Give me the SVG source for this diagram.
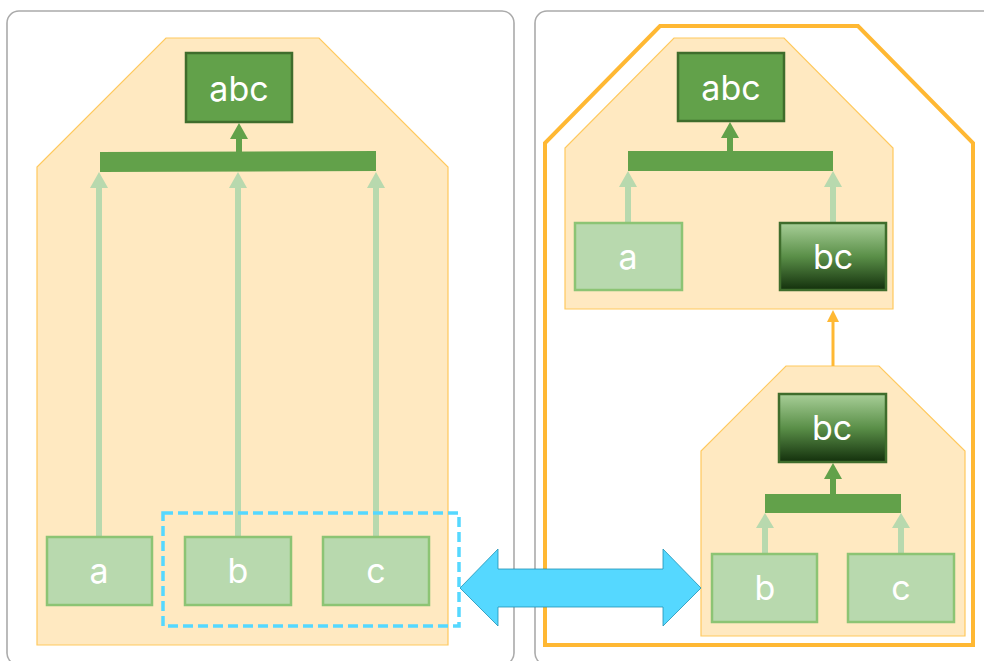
<svg xmlns="http://www.w3.org/2000/svg" width="984" height="661" viewBox="0 0 984 661">
<defs>
<linearGradient id="dk" x1="0" y1="0" x2="0" y2="1">
<stop offset="0" stop-color="#A8CF98"/>
<stop offset="0.5" stop-color="#5A8F48"/>
<stop offset="1" stop-color="#13300C"/>
</linearGradient>
</defs>
<style>
.panel{fill:#fff;stroke:#aaaaaa;stroke-width:1.6}
.grp{fill:#FFE9C1;stroke:#FFC95E;stroke-width:1.2}
.dn rect{fill:#62A14A;stroke:#3F6D2C;stroke-width:2.5}
.gn rect{fill:url(#dk);stroke:#3F6D2C;stroke-width:2.5}
.ln rect{fill:#B8D9AE;stroke:#8CC474;stroke-width:2.5}
text{font-family:Inter,"Liberation Sans",sans-serif;font-size:34px;fill:#fff;text-anchor:middle}
.bar{fill:#62A14A}
.la{fill:#B8D9AE}
.da{fill:#62A14A}
</style>
<rect class="panel" x="7" y="11" width="507" height="654" rx="12"/>
<rect class="panel" x="535" y="11" width="470" height="654" rx="12"/>
<polygon id="outer" points="660,26 858,26 973,143 973,645 545,645 545,143" fill="none" stroke="#FFB833" stroke-width="4"/>
<g id="group-left"><polygon class="grp" points="166,38 319,38 448,167 448,645 37,645 37,167"/></g>
<g id="group-top"><polygon class="grp" points="674,38 784,38 893,148 893,309 565,309 565,148"/></g>
<g id="group-bottom"><polygon class="grp" points="786,366 879,366 965,451 965,636 701,636 701,451"/></g>
<g id="connectors">
<polygon class="bar" points="100,152 376,151 376,171 100,172"/>
<rect class="da" x="236" y="138" width="6" height="14"/><polygon class="da" points="230,139 239,123 248,139"/>
<rect class="la" x="96" y="187" width="6" height="350"/><polygon class="la" points="90,188 99,172 108,188"/>
<rect class="la" x="235" y="187" width="6" height="350"/><polygon class="la" points="229,188 238,172 247,188"/>
<rect class="la" x="373" y="187" width="6" height="350"/><polygon class="la" points="367,188 376,172 385,188"/>
<polygon class="bar" points="628,151 833,151 833,171 628,171"/>
<rect class="da" x="727" y="137" width="6" height="15"/><polygon class="da" points="721,138 730,122 739,138"/>
<rect class="la" x="625" y="186" width="6" height="37"/><polygon class="la" points="619,187 628,171 637,187"/>
<rect class="la" x="830" y="186" width="6" height="37"/><polygon class="la" points="824,187 833,171 842,187"/>
<polygon class="bar" points="765,494 901,494 901,513 765,513"/>
<rect class="da" x="830" y="478" width="6" height="17"/><polygon class="da" points="824,479 833,463 842,479"/>
<rect class="la" x="762" y="527" width="6" height="27"/><polygon class="la" points="756,528 765,513 774,528"/>
<rect class="la" x="898" y="527" width="6" height="27"/><polygon class="la" points="892,528 901,513 910,528"/>
<line x1="833" y1="366" x2="833" y2="320" stroke="#FFB833" stroke-width="3"/>
<polygon points="827,322 833,310 839,322" fill="#FFB833"/>
<rect x="163" y="513" width="296" height="113" fill="none" stroke="#55D8FF" stroke-width="3.5" stroke-dasharray="10,5"/>
<polygon points="460,588 498,549 498,569 663,569 663,549 701,588 663,626 663,607 498,607 498,626" fill="#55D8FF" stroke="#1F93B5" stroke-width="0.8"/>
</g>
<g id="abc-left" class="dn"><rect x="186" y="53" width="106" height="69"/><text x="239" y="101">abc</text></g>
<g id="a-left" class="ln"><rect x="47" y="537" width="105" height="68"/><text x="99" y="583">a</text></g>
<g id="b-left" class="ln"><rect x="185" y="537" width="106" height="68"/><text x="238" y="583">b</text></g>
<g id="c-left" class="ln"><rect x="323" y="537" width="106" height="68"/><text x="376" y="583">c</text></g>
<g id="abc-right" class="dn"><rect x="678" y="53" width="106" height="68"/><text x="731" y="100">abc</text></g>
<g id="a-right" class="ln"><rect x="575" y="223" width="107" height="67"/><text x="628" y="269">a</text></g>
<g id="bc-top" class="gn"><rect x="780" y="223" width="106" height="67"/><text x="833" y="269">bc</text></g>
<g id="bc-bottom" class="gn"><rect x="779" y="394" width="107" height="68"/><text x="832" y="440">bc</text></g>
<g id="b-right" class="ln"><rect x="712" y="554" width="105" height="68"/><text x="765" y="600">b</text></g>
<g id="c-right" class="ln"><rect x="848" y="554" width="106" height="68"/><text x="901" y="600">c</text></g>
</svg>
